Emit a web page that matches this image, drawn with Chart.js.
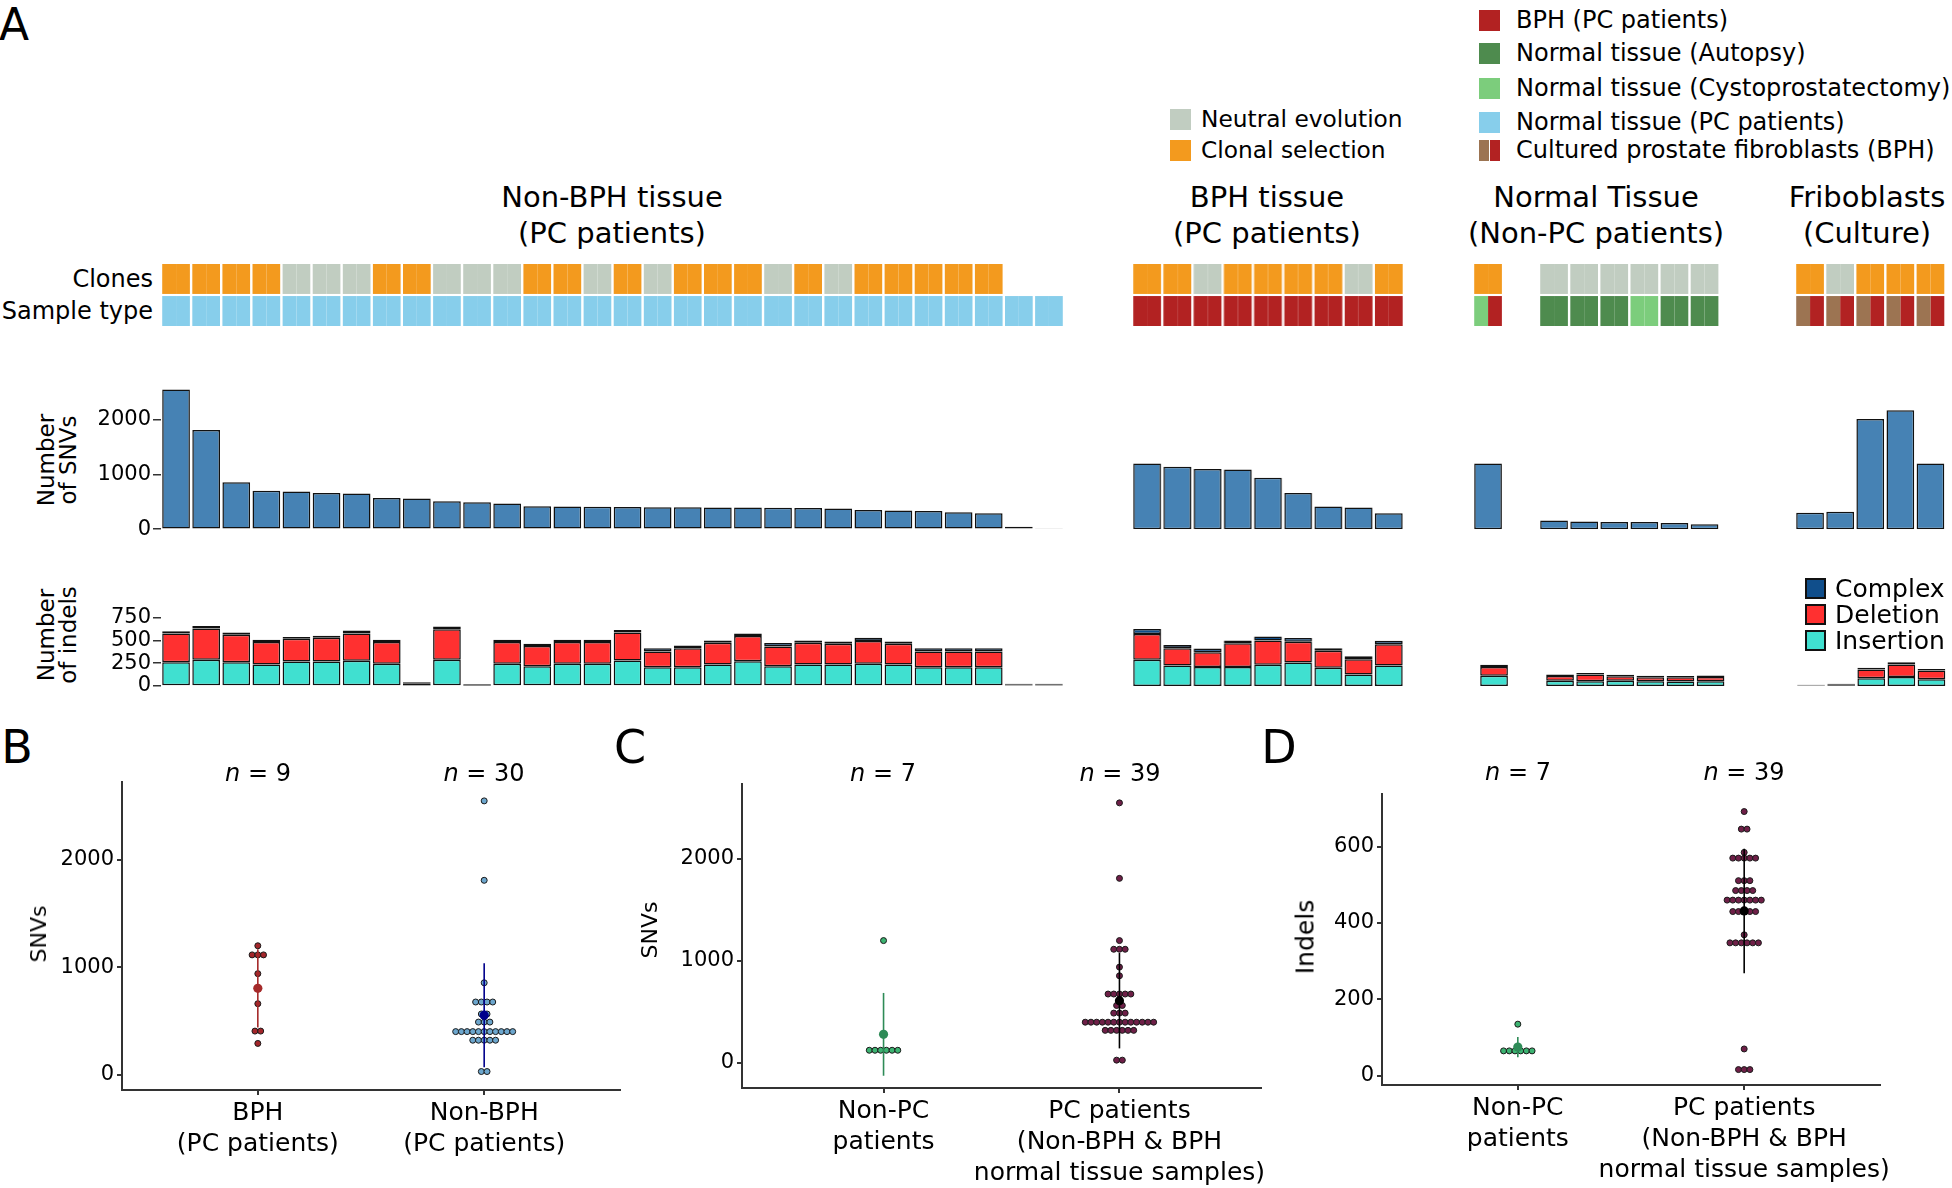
<!DOCTYPE html>
<html>
<head>
<meta charset="utf-8">
<title>Somatic mutations in prostate tissue</title>
<script src="https://cdn.jsdelivr.net/npm/chart.js@4.4.1/dist/chart.umd.min.js"></script>
<style>
  html, body { margin: 0; padding: 0; background: #ffffff; }
  body { position: relative; width: 1952px; height: 1188px; overflow: hidden; font-family: "DejaVu Sans", sans-serif; color: #000; }
  .box { position: absolute; }
  .box canvas { display: block; }
  .t { position: absolute; white-space: nowrap; line-height: 1; text-align: center; }
  .sw { position: absolute; box-sizing: border-box; }
</style>
</head>
<body>
<script>
// ======================= DATA =======================
const groupTitles = [
  ['Non-BPH tissue', '(PC patients)'],
  ['BPH tissue', '(PC patients)'],
  ['Normal Tissue', '(Non-PC patients)'],
  ['Friboblasts', '(Culture)']
];
const cloneLegend = ['Neutral evolution', 'Clonal selection'];
const cloneLegendKeys = ['N', 'C'];
const sampleLegend = ['BPH (PC patients)', 'Normal tissue (Autopsy)', 'Normal tissue (Cystoprostatectomy)', 'Normal tissue (PC patients)', 'Cultured prostate fibroblasts (BPH)'];
const sampleLegendKeys = ['BPH', 'AUT', 'CYS', 'PC', 'FIB|BPH'];
const indelTypes = ['Complex', 'Deletion', 'Insertion'];

// clone status per sample: C = clonal selection, N = neutral evolution, null = not shown
const nonBphClones = ['C','C','C','C','N','N','N','C','C','N','N','N','C','C','N','C','N','C','C','C','N','C','N','C','C','C','C','C',null,null];
const bphClones    = ['C','C','N','C','C','C','C','N','C'];
const normalAClones = ['C'];
const normalBClones = ['N','N','N','N','N','N'];
const fibClones    = ['C','N','C','C','C'];

// sample type per sample (two halves separated by |)
const nonBphType = ['PC','PC','PC','PC','PC','PC','PC','PC','PC','PC','PC','PC','PC','PC','PC','PC','PC','PC','PC','PC','PC','PC','PC','PC','PC','PC','PC','PC','PC','PC'];
const bphType    = ['BPH','BPH','BPH','BPH','BPH','BPH','BPH','BPH','BPH'];
const normalAType = ['CYS|BPH'];
const normalBType = ['AUT','AUT','AUT','CYS','AUT','AUT'];
const fibType    = ['FIB|BPH','FIB|BPH','FIB|BPH','FIB|BPH','FIB|BPH'];

// number of SNVs per sample
const nonBphSNV = [2550,1810,855,702,690,660,650,568,560,508,490,470,420,415,410,405,402,400,398,395,390,385,380,350,340,330,310,290,46,10];
const bphSNV    = [1200,1140,1100,1090,940,660,415,395,290];
const normalASNV = [1200];
const normalBSNV = [160,140,132,130,115,90];
const fibSNV    = [300,320,2010,2170,1200];

// number of indels per sample: insertion / deletion / complex
const nonBphIns = [261,287,261,235,268,268,276,243,5,287,3,243,217,243,243,279,206,206,235,272,217,235,235,243,235,206,206,206,5,5];
const nonBphDel = [313,342,301,247,250,261,298,239,20,334,5,239,220,239,239,306,173,209,239,276,217,239,228,250,228,173,173,173,8,8];
const nonBphCx  = [25,29,23,25,19,22,33,25,15,30,10,25,26,25,25,29,36,30,26,26,37,26,26,36,26,36,36,36,13,13];
const bphIns = [289,225,207,207,232,257,200,125,225];
const bphDel = [282,189,164,261,268,229,186,168,232];
const bphCx  = [54,36,40,32,43,39,28,32,39];
const normalAIns = [111];
const normalADel = [96];
const normalACx  = [25];
const normalBIns = [57,52,57,52,50,52];
const normalBDel = [52,73,50,45,45,48];
const normalBCx  = [16,18,15,14,14,14];
const fibIns = [3,8,85,100,75];
const fibDel = [4,10,95,136,96];
const fibCx  = [6,8,20,25,15];

// panel D: indels per sample
const indelsNonPC = [135,65,65,65,65,65,65];
const indelsPC = [692,646,646,585,570,570,570,570,570,511,511,511,485,485,485,485,460,460,460,460,460,460,460,430,430,430,430,430,369,348,348,348,348,348,348,70,16,16,16];

// tick labels
const snvTicksA = [0, 1000, 2000];
const indelTicksA = [0, 250, 500, 750];
const snvTicksBC = [0, 1000, 2000];
const indelTicksD = [0, 200, 400, 600];
const labelsB = [['BPH', '(PC patients)'], ['Non-BPH', '(PC patients)']];
const labelsCD = [['Non-PC', 'patients'], ['PC patients', '(Non-BPH & BPH', 'normal tissue samples)']];

// ======================= STYLE / LAYOUT =======================
const COL = {
  C: '#F39A1E', N: '#C1CDC1',
  PC: '#87CEEB', BPH: '#B22222', AUT: '#4E8B4E', CYS: '#7CCD7C', FIB: '#9C7452',
  snv: '#4682B4', ins: '#40E0D0', del: '#FF3030', cx: '#104E8B'
};
const FONT = "'DejaVu Sans', sans-serif";
Chart.defaults.font.family = FONT;
Chart.defaults.color = '#000';

const PITCH = 30.1;
const TILE_TOP = 264, TILE_AREA = 62, TILE_GAP = 0.07;
const SNV_ZERO = 529, SNV_PX = 0.0548, SNV_MAX = 2650;
const IND_ZERO = 686, IND_PX = 0.0913, IND_MAX = 800;
const PADA = 18;
const plain = v => String(v);

function text(str, x, y, o = {}) {
  const d = document.createElement('div');
  d.className = 't';
  d.innerHTML = str;
  d.style.left = x + 'px';
  d.style.top = y + 'px';
  d.style.fontSize = (o.size || 24) + 'px';
  if (o.lh) d.style.lineHeight = o.lh + 'px';
  const ax = o.align === 'left' ? '0' : (o.align === 'right' ? '-100%' : '-50%');
  d.style.transform = o.rotate ? 'translate(-50%,-50%) rotate(-90deg)' : `translate(${ax},-50%)`;
  document.body.appendChild(d);
  return d;
}
function swatch(x, y, w, h, bg, border) {
  const d = document.createElement('div');
  d.className = 'sw';
  Object.assign(d.style, { left: x + 'px', top: y + 'px', width: w + 'px', height: h + 'px', background: bg });
  if (border) d.style.border = border;
  document.body.appendChild(d);
}
function canvasBox(left, top, w, h) {
  const d = document.createElement('div');
  d.className = 'box';
  Object.assign(d.style, { left: left + 'px', top: top + 'px', width: w + 'px', height: h + 'px' });
  const c = document.createElement('canvas');
  d.appendChild(c);
  document.body.appendChild(d);
  return c;
}
function keyBackground(key) {
  const h = key.split('|');
  if (h.length === 1) return COL[h[0]];
  return `linear-gradient(to right, ${COL[h[0]]} 0 46%, #fff 46% 52%, ${COL[h[1]]} 52% 100%)`;
}

const baseOpts = {
  responsive: true, maintainAspectRatio: false, animation: false, devicePixelRatio: 1,
  plugins: { legend: { display: false }, tooltip: { enabled: false } },
  events: []
};

// ======================= PANEL A =======================
const groupsA = [
  { clones: nonBphClones, types: nonBphType, snv: nonBphSNV, ins: nonBphIns, del: nonBphDel, cx: nonBphCx },
  { clones: bphClones, types: bphType, snv: bphSNV, ins: bphIns, del: bphDel, cx: bphCx },
  { clones: normalAClones, types: normalAType, snv: normalASNV, ins: normalAIns, del: normalADel, cx: normalACx },
  { clones: normalBClones, types: normalBType, snv: normalBSNV, ins: normalBIns, del: normalBDel, cx: normalBCx },
  { clones: fibClones, types: fibType, snv: fibSNV, ins: fibIns, del: fibDel, cx: fibCx }
];
const layoutA = [
  { left: 160.8, axis: true, dx: 0 },
  { left: 1131.8, dx: 0 },
  { left: 1472.8, dx: 6 },
  { left: 1538.8, dx: 6 },
  { left: 1794.8, dx: 1 }
];

function yAxisA(min, max, ticks, show) {
  const ax = {
    display: show, min, max,
    afterBuildTicks: a => { a.ticks = ticks.map(v => ({ value: v })); },
    ticks: { font: { size: 21 }, color: '#000', padding: 2, autoSkip: false, callback: plain },
    grid: { display: true, drawOnChartArea: false, drawTicks: true, tickLength: 8, color: '#333', lineWidth: 1.5 },
    border: { display: false }
  };
  if (show) ax.afterFit = s => { s.width = 80; };
  return ax;
}

function makeGroup(g, L) {
  const n = g.snv.length;
  const W = n * PITCH;
  const labels = g.snv.map((_, i) => 'S' + (i + 1));
  const AX = L.axis ? 80 : 0;

  // annotation tiles (sample type row at bottom, clones row at top)
  const halves = g.types.map(t => t.split('|'));
  const tileDs = [];
  ['L', 'R'].forEach((s, k) => {
    tileDs.push({ stack: s, data: g.types.map(t => t ? 1 : null), backgroundColor: halves.map(h => COL[h[Math.min(k, h.length - 1)]]) });
    tileDs.push({ stack: s, data: g.types.map(t => t ? TILE_GAP : null), backgroundColor: 'rgba(0,0,0,0)' });
    tileDs.push({ stack: s, data: g.clones.map(c => c ? 1 : null), backgroundColor: g.clones.map(c => c ? COL[c] : 'rgba(0,0,0,0)') });
  });
  new Chart(canvasBox(L.left, TILE_TOP, W, TILE_AREA), {
    type: 'bar',
    data: { labels, datasets: tileDs },
    options: Object.assign({}, baseOpts, {
      layout: { padding: 0 },
      datasets: { bar: { categoryPercentage: 0.92, barPercentage: 1, borderWidth: 0 } },
      scales: {
        x: { stacked: true, display: false },
        y: { stacked: true, display: false, min: 0, max: 2 + TILE_GAP }
      }
    })
  });

  // SNV bars
  const topS = SNV_ZERO - SNV_MAX * SNV_PX;
  new Chart(canvasBox(L.left - AX, topS - PADA, W + AX, SNV_ZERO - topS + 2 * PADA), {
    type: 'bar',
    data: { labels, datasets: [{ data: g.snv, backgroundColor: COL.snv, borderColor: '#111', borderWidth: 1.5, borderSkipped: false }] },
    options: Object.assign({}, baseOpts, {
      layout: { padding: { top: PADA, bottom: PADA, left: 0, right: 0 } },
      datasets: { bar: { categoryPercentage: 0.92, barPercentage: 1 } },
      scales: { x: { display: false }, y: yAxisA(0, SNV_MAX, snvTicksA, !!L.axis) }
    })
  });

  // indel stacked bars
  const topI = IND_ZERO - IND_MAX * IND_PX;
  const bar = (data, c) => ({ data, backgroundColor: c, borderColor: '#111', borderWidth: 1.5, borderSkipped: false });
  new Chart(canvasBox(L.left + L.dx - AX, topI - PADA, W + AX, IND_ZERO - topI + 2 * PADA), {
    type: 'bar',
    data: { labels, datasets: [bar(g.ins, COL.ins), bar(g.del, COL.del), bar(g.cx, COL.cx)] },
    options: Object.assign({}, baseOpts, {
      layout: { padding: { top: PADA, bottom: PADA, left: 0, right: 0 } },
      datasets: { bar: { categoryPercentage: 0.92, barPercentage: 1 } },
      scales: { x: { display: false, stacked: true }, y: Object.assign(yAxisA(0, IND_MAX, indelTicksA, !!L.axis), { stacked: true }) }
    })
  });
}
groupsA.forEach((g, i) => makeGroup(g, layoutA[i]));

// ======================= PANELS B, C, D =======================
const X_MIN = 0.4, X_MAX = 2.6, DOT_SP = 5.7;
const mean = a => a.reduce((s, v) => s + v, 0) / a.length;
const sdev = a => { const m = mean(a); return Math.sqrt(a.reduce((s, v) => s + (v - m) * (v - m), 0) / (a.length - 1)); };

function dotLayout(values, bw, gx, sp) {
  const sorted = values.slice().sort((a, b) => a - b);
  const bins = [];
  let end = -Infinity, cur = null;
  for (const v of sorted) {
    if (v >= end) { cur = []; bins.push(cur); end = v + bw; }
    cur.push(v);
  }
  const pts = [];
  bins.forEach(b => {
    const c = (b[0] + b[b.length - 1]) / 2;
    b.forEach((v, j) => pts.push({ x: gx + (j - (b.length - 1) / 2) * sp, y: c }));
  });
  return pts;
}

function dotPanel(P) {
  const Wy = 80, Hx = 98, padT = 20, padR = 20;
  const cLeft = P.left - Wy, cTop = P.top - padT;
  const cv = canvasBox(cLeft, cTop, P.right + padR - cLeft, P.bottom + Hx - cTop);
  const unitPx = (P.right - P.left) / (X_MAX - X_MIN);
  const sp = DOT_SP / unitPx;
  const all = P.groups.flatMap(g => g.values);
  const bw = P.bw || (Math.max(...all) - Math.min(...all)) / 30;
  const means = [], lines = [], dots = [];
  P.groups.forEach((g, i) => {
    const x = i + 1, m = mean(g.values), s = sdev(g.values);
    means.push({ data: [{ x, y: m }], pointRadius: 4.6, pointBackgroundColor: g.meanColor, pointBorderWidth: 0 });
    lines.push({ data: [{ x, y: m - s }, { x, y: m + s }], showLine: true, borderColor: g.lineColor, borderWidth: 1.6, pointRadius: 0, fill: false });
    dots.push({ data: dotLayout(g.values, bw, x, sp), pointRadius: 3, pointBackgroundColor: g.fill, pointBorderColor: '#1a1a1a', pointBorderWidth: 1 });
  });
  const gridAx = { display: true, drawOnChartArea: false, drawTicks: true, tickLength: 5, color: '#333', lineWidth: 2 };
  new Chart(cv, {
    type: 'scatter',
    data: { datasets: [...means, ...lines, ...dots] },
    options: Object.assign({}, baseOpts, {
      layout: { padding: { top: padT, right: padR, left: 0, bottom: 0 } },
      scales: {
        x: {
          type: 'linear', min: X_MIN, max: X_MAX,
          afterBuildTicks: a => { a.ticks = [{ value: 1 }, { value: 2 }]; },
          afterFit: s => { s.height = Hx; },
          ticks: { callback: v => P.xLabels[Math.round(v) - 1], font: { size: 25, lineHeight: 1.24 }, color: '#000', padding: 3, autoSkip: false, maxRotation: 0, minRotation: 0 },
          grid: gridAx, border: { display: true, color: '#333', width: 2 }
        },
        y: {
          min: P.yMin, max: P.yMax,
          afterBuildTicks: a => { a.ticks = P.yTicks.map(v => ({ value: v })); },
          afterFit: s => { s.width = Wy; },
          ticks: { font: { size: 21 }, color: '#000', padding: 3, autoSkip: false, callback: plain },
          grid: gridAx, border: { display: true, color: '#333', width: 2 }
        }
      }
    })
  });
}

const normalSNV = normalASNV.concat(normalBSNV);
const pcSNV = nonBphSNV.concat(bphSNV);

dotPanel({
  left: 122, right: 620, top: 782, bottom: 1090, yMin: -144, yMax: 2726, yTicks: snvTicksBC, xLabels: labelsB,
  groups: [
    { values: bphSNV, fill: '#A3262A', meanColor: '#A52A2A', lineColor: '#A52A2A' },
    { values: nonBphSNV, fill: '#6CA6CD', meanColor: '#00008B', lineColor: '#00008B' }
  ]
});
dotPanel({
  left: 742, right: 1261, top: 784, bottom: 1088, yMin: -245, yMax: 2735, yTicks: snvTicksBC, xLabels: labelsCD,
  groups: [
    { values: normalSNV, fill: '#3CB371', meanColor: '#2E8B57', lineColor: '#2E8B57' },
    { values: pcSNV, fill: '#6E1F47', meanColor: '#000000', lineColor: '#000000' }
  ]
});
dotPanel({
  left: 1382, right: 1880, top: 794, bottom: 1085, yMin: -24.4, yMax: 738, yTicks: indelTicksD, xLabels: labelsCD, bw: 14,
  groups: [
    { values: indelsNonPC, fill: '#3CB371', meanColor: '#2E8B57', lineColor: '#2E8B57' },
    { values: indelsPC, fill: '#6E1F47', meanColor: '#000000', lineColor: '#000000' }
  ]
});

// ======================= TEXT & LEGENDS =======================
text('A', 14, 25, { size: 44 });
text('B', 17, 747, { size: 46 });
text('C', 630, 747, { size: 46 });
text('D', 1279, 747, { size: 46 });

const titleX = [612, 1267, 1596, 1867];
groupTitles.forEach((t, i) => { text(t[0], titleX[i], 197, { size: 29 }); text(t[1], titleX[i], 233, { size: 29 }); });

text('Clones', 153, 279, { size: 24, align: 'right' });
text('Sample type', 153, 311, { size: 24, align: 'right' });

const cloneLegY = [119, 150];
cloneLegend.forEach((s, i) => {
  swatch(1170, cloneLegY[i] - 10.5, 21, 21, COL[cloneLegendKeys[i]]);
  text(s, 1201, cloneLegY[i], { size: 23.3, align: 'left' });
});
const sampleLegY = [20, 53, 88, 122, 150];
sampleLegend.forEach((s, i) => {
  swatch(1479, sampleLegY[i] - 10.5, 21, 21, keyBackground(sampleLegendKeys[i]));
  text(s, 1516, sampleLegY[i], { size: 24, align: 'left' });
});
const indelLegY = [588, 614, 640];
const indelLegCol = [COL.cx, COL.del, COL.ins];
indelTypes.forEach((s, i) => {
  swatch(1805, indelLegY[i] - 10, 21, 21, indelLegCol[i], '2px solid #111');
  text(s, 1835, indelLegY[i], { size: 25, align: 'left' });
});

text('Number<br>of SNVs', 57, 460, { size: 23, lh: 22, rotate: true });
text('Number<br>of indels', 57, 635, { size: 23, lh: 22, rotate: true });
text('SNVs', 39, 934, { size: 22, rotate: true });
text('SNVs', 650, 930, { size: 22, rotate: true });
text('Indels', 1305, 937, { size: 25, rotate: true });

text('<i>n</i> = ' + bphSNV.length, 258, 773, { size: 24 });
text('<i>n</i> = ' + nonBphSNV.length, 484, 773, { size: 24 });
text('<i>n</i> = ' + normalSNV.length, 883, 773, { size: 24 });
text('<i>n</i> = ' + pcSNV.length, 1120, 773, { size: 24 });
text('<i>n</i> = ' + indelsNonPC.length, 1518, 772, { size: 24 });
text('<i>n</i> = ' + indelsPC.length, 1744, 772, { size: 24 });
</script>
</body>
</html>
